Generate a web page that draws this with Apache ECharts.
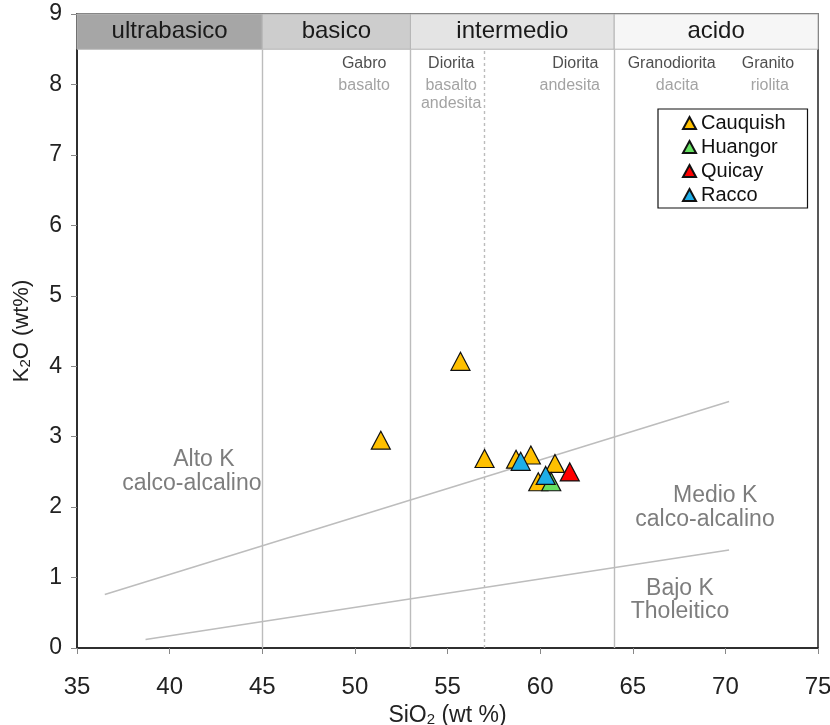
<!DOCTYPE html>
<html><head><meta charset="utf-8">
<script src="https://cdn.jsdelivr.net/npm/echarts@6/dist/echarts.min.js"></script>
<style>html,body{margin:0;padding:0;background:#fff}#c{width:830px;height:725px}</style>
</head><body><div id="c"></div>
<script>
// ---- data ----
const xTicks = [35,40,45,50,55,60,65,70,75];
const yTicks = [0,1,2,3,4,5,6,7,8,9];
const cauquish = [[55.7,4.07],[51.4,2.95],[57.0,2.69],[58.7,2.68],[59.5,2.74],[60.8,2.62],[59.9,2.36]];
const huangor = [[60.6,2.36]];
const quicay = [[61.6,2.50]];
const racco = [[58.95,2.65],[60.3,2.45]];
// boundaries (straight segments)
const highMedLine = [[36.5,0.76],[70.2,3.50]];
const medLowLine = [[38.7,0.12],[70.2,1.39]];
// classification bands: [from, to, name, fill]
const bands = [[35,45,'ultrabasico','#a6a6a6'],[45,53,'basico','#cdcdcd'],[53,64,'intermedio','#e4e4e4'],[64,75,'acido','#f6f6f6']];
const bandBottom = 8.5, bandTop = 9;
const dividers = [45,53,64];
const dottedDivider = [57];
// rock names: [x, y, text, colour]
const rockNames = [
  [50.5,8.3,'Gabro','#222'],[50.5,7.99,'basalto','#8c8c8c'],
  [55.2,8.3,'Diorita','#222'],[55.2,7.99,'basalto','#8c8c8c'],[55.2,7.73,'andesita','#8c8c8c'],
  [61.9,8.3,'Diorita','#222'],[61.6,7.99,'andesita','#8c8c8c'],
  [67.1,8.3,'Granodiorita','#222'],[67.4,7.99,'dacita','#8c8c8c'],
  [72.3,8.3,'Granito','#222'],[72.4,7.99,'riolita','#8c8c8c']
];
const fieldNames = [
  [41.85,2.67,'Alto K'],[41.2,2.34,'calco-alcalino'],
  [69.45,2.16,'Medio K'],[68.9,1.82,'calco-alcalino'],
  [67.55,0.84,'Bajo K'],[67.55,0.51,'Tholeitico']
];

const FONT = 'Liberation Sans, Arial, sans-serif';
const chart = echarts.init(document.getElementById('c'), null, {renderer:'canvas'});
const tri = (name, data, color) => ({
  name, type:'scatter', data, symbol:'triangle', symbolSize:[19,18], z:10,
  itemStyle:{color, borderColor:'#111', borderWidth:1.2, opacity:1}
});
const textSeries = (arr, size, colorFn) => ({
  type:'scatter', silent:true, z:3, symbolSize:1, itemStyle:{color:'rgba(0,0,0,0)'},
  data:arr.map(r=>({value:[r[0],r[1]],label:{show:true,position:'inside',formatter:r[2],color:colorFn(r),fontFamily:FONT,fontSize:size}}))
});
const option = {
  animation:false,
  backgroundColor:'#fff',
  grid:{left:77,right:12,top:14,bottom:77,show:true,borderColor:'#222',borderWidth:1.5,containLabel:false,outerBoundsMode:'none'},
  xAxis:{type:'value',min:35,max:75,interval:5,
    name:'SiO{s|2} (wt %)',nameLocation:'middle',nameGap:51,
    nameTextStyle:{fontFamily:FONT,fontSize:23,color:'#222',rich:{s:{fontFamily:FONT,fontSize:15,color:'#222',padding:[8,0,0,0]}}},
    axisLine:{show:true,lineStyle:{color:'#222',width:1.5}},
    axisTick:{show:true,length:6,lineStyle:{color:'#888'}},
    axisLabel:{margin:27,fontFamily:FONT,fontSize:24,color:'#222'},
    splitLine:{show:false}},
  yAxis:{type:'value',min:0,max:9,interval:1,
    name:'K{s|2}O (wt%)',nameLocation:'middle',nameGap:44,
    nameTextStyle:{fontFamily:FONT,fontSize:22,color:'#222',rich:{s:{fontFamily:FONT,fontSize:15,color:'#222',padding:[8,0,0,0]}}},
    axisLine:{show:true,lineStyle:{color:'#222',width:1.5}},
    axisTick:{show:true,length:6,lineStyle:{color:'#888'}},
    axisLabel:{margin:15,fontFamily:FONT,fontSize:23,color:'#222'},
    splitLine:{show:false}},
  legend:{orient:'vertical',left:658,top:109,itemWidth:13,itemHeight:12,itemGap:4,
    padding:[4,22,3,24],backgroundColor:'#fff',borderColor:'#111',borderWidth:1.2,
    textStyle:{fontFamily:FONT,fontSize:20,color:'#111'},
    data:['Cauquish','Huangor','Quicay','Racco'].map(n=>({name:n,icon:'triangle'}))},
  series:[
    {type:'line',data:highMedLine,symbol:'none',silent:true,z:2,lineStyle:{color:'#bdbdbd',width:1.6}},
    {type:'line',data:medLowLine,symbol:'none',silent:true,z:2,lineStyle:{color:'#bdbdbd',width:1.6}},
    {type:'scatter',data:[],silent:true,z:1,
      markArea:{silent:true,
        data:bands.map(b=>[
          {xAxis:b[0],yAxis:bandBottom,name:b[2],itemStyle:{color:b[3],borderColor:'#b5b5b5',borderWidth:1},
           label:{show:true,position:'inside',color:'#1a1a1a',fontFamily:FONT,fontSize:24}},
          {xAxis:b[1],yAxis:bandTop}])},
      markLine:{silent:true,symbol:'none',label:{show:false},
        data:dividers.map(x=>[{coord:[x,0],lineStyle:{color:'#bcbcbc',width:1.4,type:'solid'}},{coord:[x,bandBottom]}])
          .concat(dottedDivider.map(x=>[{coord:[x,0],lineStyle:{color:'#bcbcbc',width:1.4,type:[3,3]}},{coord:[x,bandBottom]}]))}
    },
    textSeries(rockNames, 16, r=>r[3]),
    textSeries(fieldNames, 23, r=>'#5c5c5c'),
    tri('Cauquish',cauquish,'#FFC000'),
    tri('Huangor',huangor,'#66E060'),
    tri('Quicay',quicay,'#FF0000'),
    tri('Racco',racco,'#1EAEE8')
  ]
};
chart.setOption(option);
</script></body></html>
